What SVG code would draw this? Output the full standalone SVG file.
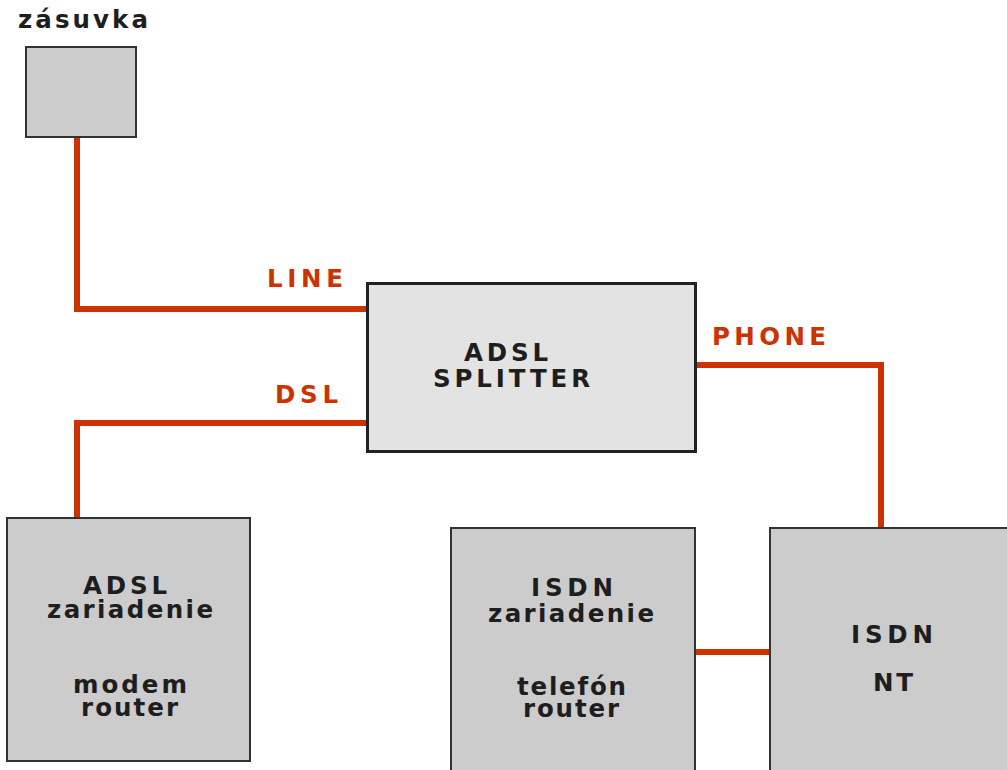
<svg xmlns="http://www.w3.org/2000/svg" width="1007" height="770" viewBox="0 0 1007 770">
<style>
.box{fill:#cccccc;stroke:#333;stroke-width:2}
.split{fill:#e3e3e3;stroke:#222;stroke-width:3}
.t{font-family:"DejaVu Sans","Verdana",sans-serif;font-weight:bold;font-size:24.5px;fill:#1e1e1e}
.lbl{font-family:"DejaVu Sans","Verdana",sans-serif;font-weight:bold;font-size:24.5px;fill:#cc3300}
.wire{fill:none;stroke:#cc3300;stroke-width:6}
</style>
<rect width="1007" height="770" fill="#ffffff"/>
<g id="connectors">
<path class="wire" d="M77 137 V309 H367"/>
<path class="wire" d="M367 423 H77 V517"/>
<path class="wire" d="M696 365 H881 V527"/>
<path class="wire" d="M695 652 H769"/>
<text class="lbl" x="267" y="287" textLength="76" lengthAdjust="spacing">LINE</text>
<text class="lbl" x="275" y="403" textLength="63" lengthAdjust="spacing">DSL</text>
<text class="lbl" x="712" y="345" textLength="114" lengthAdjust="spacing">PHONE</text>
</g>
<g id="zasuvka">
<text class="t" x="18" y="28" textLength="130" lengthAdjust="spacing">zásuvka</text>
<rect class="box" x="26" y="47" width="110" height="90"/>
</g>
<g id="splitter">
<rect class="split" x="367.5" y="283.5" width="328" height="168"/>
<text class="t" x="464" y="361" textLength="84" lengthAdjust="spacing">ADSL</text>
<text class="t" x="433" y="387" textLength="157" lengthAdjust="spacing">SPLITTER</text>
</g>
<g id="adsl-device">
<rect class="box" x="7" y="518" width="243" height="243"/>
<text class="t" x="83" y="594" textLength="84" lengthAdjust="spacing">ADSL</text>
<text class="t" x="47" y="618" textLength="166" lengthAdjust="spacing">zariadenie</text>
<text class="t" x="73" y="693" textLength="114" lengthAdjust="spacing">modem</text>
<text class="t" x="81" y="716" textLength="97" lengthAdjust="spacing">router</text>
</g>
<g id="isdn-device">
<rect class="box" x="451" y="528" width="244" height="260"/>
<text class="t" x="531" y="596" textLength="82" lengthAdjust="spacing">ISDN</text>
<text class="t" x="488" y="622" textLength="166" lengthAdjust="spacing">zariadenie</text>
<text class="t" x="517" y="695" textLength="109" lengthAdjust="spacing">telefón</text>
<text class="t" x="523" y="717" textLength="96" lengthAdjust="spacing">router</text>
</g>
<g id="isdn-nt">
<rect class="box" x="770" y="528" width="260" height="260"/>
<text class="t" x="851" y="643" textLength="82" lengthAdjust="spacing">ISDN</text>
<text class="t" x="873" y="691" textLength="40" lengthAdjust="spacing">NT</text>
</g>
</svg>
